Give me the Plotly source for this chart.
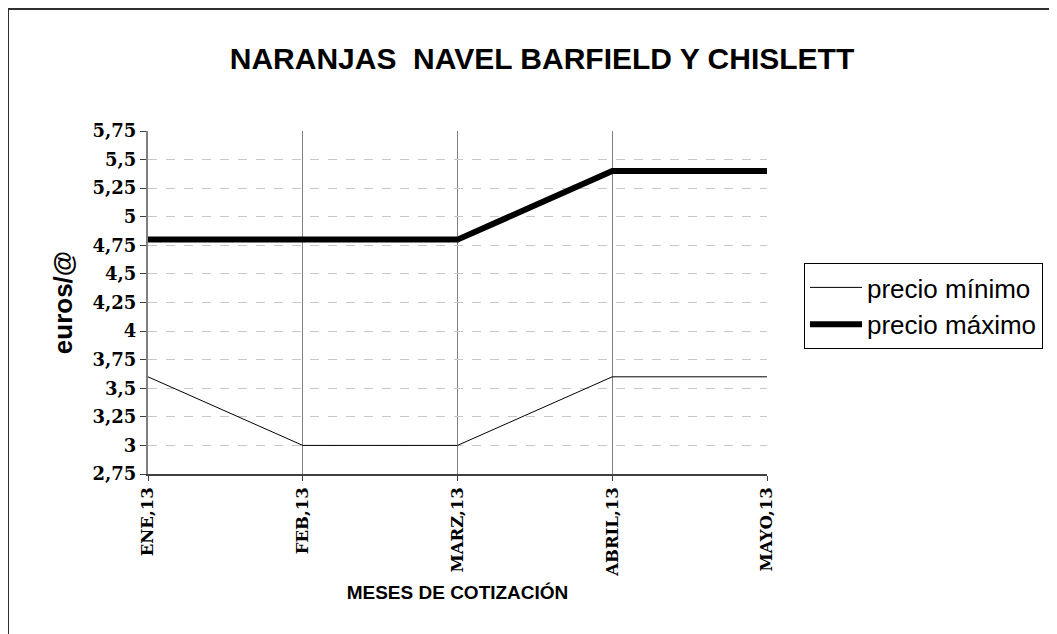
import plotly.graph_objects as go

months = ["ENE,13", "FEB,13", "MARZ,13", "ABRIL,13", "MAYO,13"]
precio_minimo = [3.6, 3.0, 3.0, 3.6, 3.6]
precio_maximo = [4.8, 4.8, 4.8, 5.4, 5.4]
y_ticks = [2.75, 3, 3.25, 3.5, 3.75, 4, 4.25, 4.5, 4.75, 5, 5.25, 5.5, 5.75]

OFF = 8  # page body margin
W, H = 1057 - OFF, 634 - OFF
L, R, T, B = 148 - OFF, 767 - OFF, 131 - OFF, 474 - OFF

fig = go.Figure()
fig.add_trace(go.Scatter(x=months, y=precio_minimo, mode="lines", name="precio mínimo",
                         line=dict(color="black", width=1)))
fig.add_trace(go.Scatter(x=months, y=precio_maximo, mode="lines", name="precio máximo",
                         line=dict(color="black", width=6)))

def px_x(px):
    return (px - OFF - L) / (R - L)

def px_y(py):
    return (B - (py - OFF)) / (B - T)

fig.update_layout(
    width=W, height=H,
    margin=dict(l=L, r=W - R, t=T, b=H - B, pad=0),
    paper_bgcolor="white", plot_bgcolor="white",
    separators=",.",
    showlegend=True,
    title=dict(text="<b>NARANJAS  NAVEL BARFIELD Y CHISLETT</b>", x=(542 - OFF) / W, xanchor="center",
               y=1 - (58 - OFF) / H, yanchor="middle",
               font=dict(family="Liberation Sans, Arial", size=30, color="black")),
    legend=dict(x=px_x(804), y=px_y(263), xanchor="left", yanchor="top",
                bordercolor="black", borderwidth=1, bgcolor="white",
                font=dict(family="Liberation Sans, Arial", size=26, color="black"),
                itemwidth=52, tracegroupgap=0),
    xaxis=dict(type="category", categoryorder="array", categoryarray=months,
               range=[0, 4], showgrid=True, gridcolor="#808080", gridwidth=1,
               showline=True, linecolor="#404040", linewidth=1.5,
               ticks="outside", ticklen=5, tickcolor="#404040",
               tickangle=-90,
               tickfont=dict(family="DejaVu Serif", size=16.5, color="black", weight="bold"),
               title=dict(text="<b>MESES DE COTIZACIÓN</b>", standoff=10,
                          font=dict(family="Liberation Sans, Arial", size=19, color="black")),
               zeroline=False, mirror=False),
    yaxis=dict(range=[2.75, 5.75], tickvals=y_ticks,
               showgrid=True, gridcolor="#c8c8c8", gridwidth=1, griddash="dash",
               showline=True, linecolor="#808080", linewidth=2,
               ticks="outside", ticklen=6, tickcolor="#404040",
               tickfont=dict(family="DejaVu Serif", size=18, color="black", weight="bold"),
               title=dict(text="<b>euros/@</b>", standoff=12,
                          font=dict(family="Liberation Sans, Arial", size=26, color="black")),
               zeroline=False),
)

# outer chart frame (left and top edges visible)
fig.add_shape(type="rect", xref="paper", yref="paper",
              x0=px_x(8), x1=px_x(1300),
              y0=px_y(900), y1=px_y(9),
              line=dict(color="#303030", width=2), fillcolor="rgba(0,0,0,0)", layer="below")

fig.write_html("out.html")
